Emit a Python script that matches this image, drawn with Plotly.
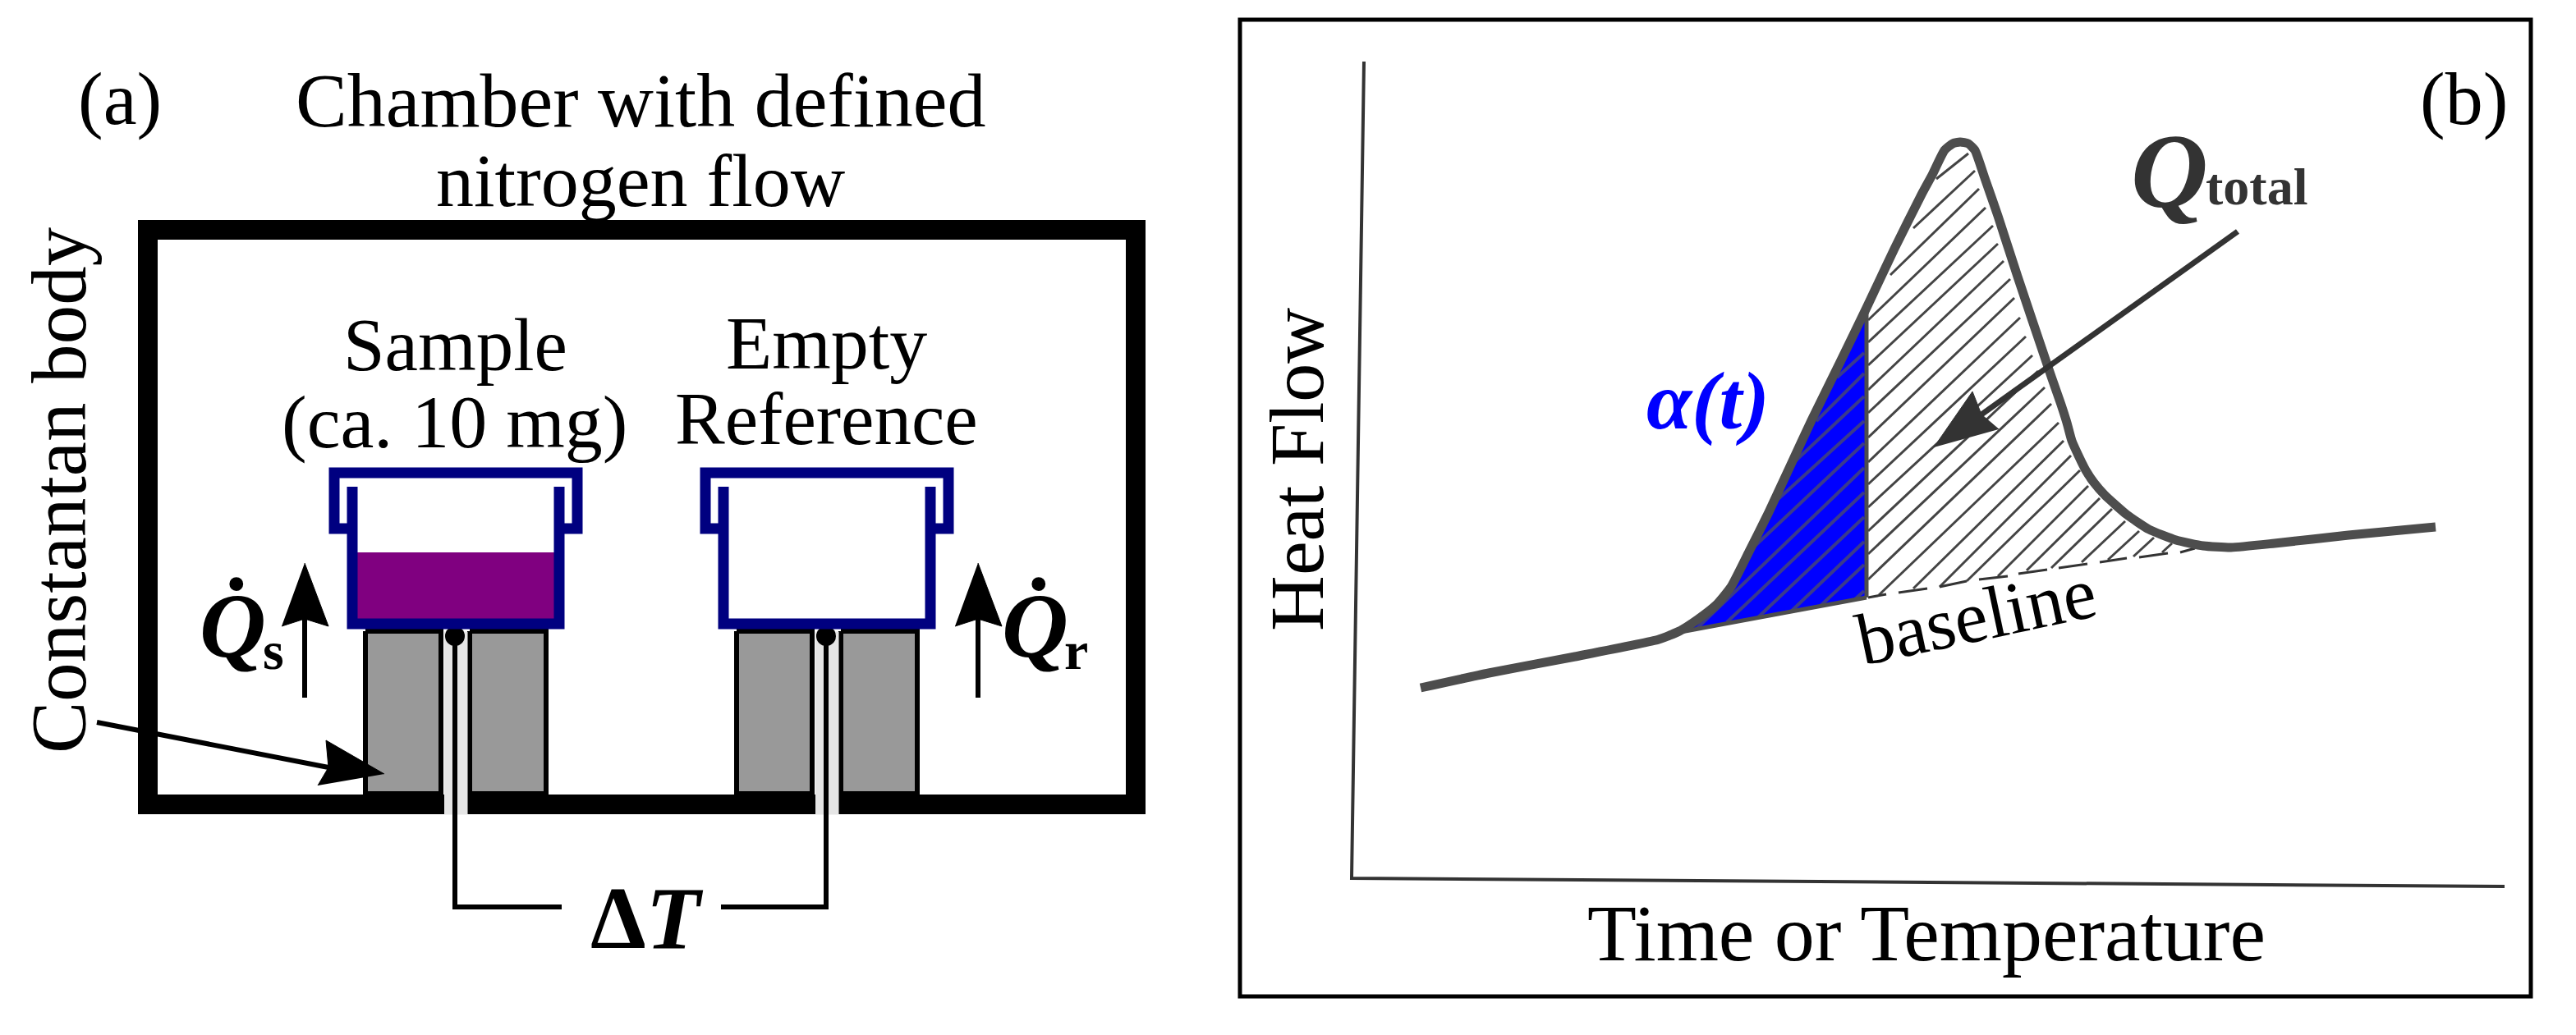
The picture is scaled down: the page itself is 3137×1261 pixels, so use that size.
import plotly.graph_objects as go

chamber_x = [780, 1383, 1383, 180, 180, 780]
chamber_y = [280, 280, 980, 980, 280, 280]

pan_x = [429, 429, 681, 681]
pan_y = [593, 760, 760, 593]
lid_x = [429, 407, 407, 703, 703, 681]
lid_y = [644, 644, 576, 576, 644, 644]
liquid_x = [435, 675, 675, 435]
liquid_y = [673, 673, 754, 754]
block_left_x = [445, 537, 537, 445, 445]
block_right_x = [572, 665, 665, 572, 572]
block_y = [769, 769, 967, 967, 769]
gap_x = [541, 569, 569, 541]
gap_y = [770, 770, 992, 992]
reference_shift = 452

wire_left_x = [554, 554, 684]
wire_right_x = [1006, 1006, 878]
wire_y = [775, 1105, 1105]

arrow_s_x = [371, 400, 371, 343]
arrow_s_y = [686, 763, 754, 763]
arrow_r_shift = 820
arrow_shaft_y = [754, 850]

body_arrow_x = [468, 397, 400, 387]
body_arrow_y = [943, 902, 935, 957]
body_line_x = [118, 400]
body_line_y = [880, 935]

box_b_x = [2300, 3082, 3082, 1510, 1510, 2300]
box_b_y = [24, 24, 1214, 1214, 24, 24]
axes_x = [1661, 1646, 3050]
axes_y = [75, 1070, 1080]

curve_x = [1730, 1813, 1918, 2020, 2045, 2067, 2090, 2108, 2130, 2153, 2180, 2207, 2240, 2273,
           2307, 2340, 2353, 2368, 2378, 2387, 2397, 2405, 2417, 2433, 2457, 2495, 2503, 2510, 2517,
           2523, 2532, 2540, 2550, 2563, 2590, 2617, 2650, 2683, 2717, 2770, 2860, 2966]
curve_y = [838, 820, 800, 779, 769, 755, 737, 715, 672, 626, 568, 510, 443, 375,
           303, 237, 213, 183, 175, 173, 175, 183, 217, 263, 337, 450, 473, 493, 515,
           537, 557, 573, 588, 603, 627, 645, 658, 665, 667, 662, 652, 642]

blue_x = [2047, 2067, 2090, 2108, 2130, 2153, 2180, 2207, 2240, 2273, 2273]
blue_y = [770, 755, 737, 715, 672, 626, 568, 510, 443, 375, 728]
divider_x = [2273, 2273]
divider_y = [375, 728]
base_solid_x = [2047, 2273]
base_solid_y = [770, 728]

dash_x0 = [2275, 2312, 2362, 2410, 2458, 2507, 2557, 2605, 2655]
dash_y0 = [728, 722, 715, 706, 699, 692, 685, 679, 673]
dash_x1 = [2297, 2347, 2395, 2445, 2493, 2542, 2590, 2640, 2673]
dash_y1 = [724, 717, 708, 702, 694, 687, 680, 674, 668]

hatch_x0 = [2358, 2330, 2302, 2275, 2275, 2275, 2275, 2275, 2275, 2275, 2275, 2275, 2275, 2275, 2275,
            2288, 2330, 2362, 2395, 2433, 2468, 2498, 2535, 2567, 2598, 2633]
hatch_y0 = [218, 278, 335, 390, 417, 445, 475, 503, 533, 563, 590, 618, 647, 675, 706,
            725, 717, 715, 708, 702, 695, 692, 685, 682, 678, 673]
hatch_x1 = [2397, 2405, 2410, 2418, 2427, 2433, 2440, 2448, 2453, 2460, 2467, 2475, 2482, 2490, 2498,
            2507, 2513, 2522, 2533, 2543, 2557, 2572, 2588, 2605, 2623, 2645]
hatch_y1 = [187, 208, 230, 253, 275, 297, 318, 340, 363, 387, 410, 433, 452, 472, 492,
            515, 537, 555, 573, 592, 607, 620, 635, 647, 655, 662]

blue_hatch_x0 = [2237, 2212, 2185, 2160, 2132, 2065, 2103, 2141, 2181, 2217, 2259]
blue_hatch_y0 = [460, 513, 563, 613, 670, 767, 758, 752, 745, 738, 730]
blue_hatch_x1 = [2270, 2270, 2270, 2270, 2270, 2270, 2270, 2270, 2270, 2270, 2270]
blue_hatch_y1 = [430, 455, 483, 513, 540, 570, 600, 630, 660, 688, 720]

q_line_x = [2725, 2413]
q_line_y = [282, 505]
q_head_x = [2355, 2402, 2413, 2434]
q_head_y = [545, 477, 505, 523]

INK = "#000000"
NAVY = "#000080"
GREY = "#4d4d4d"
DARK = "#333333"
FONT = "Liberation Serif"

fig = go.Figure()


def add(x, y, color=INK, width=6, fill=None, shape="linear"):
    fig.add_trace(go.Scatter(
        x=x, y=y, mode="lines", hoverinfo="skip", showlegend=False,
        line=dict(color=color, width=width, shape=shape, smoothing=0.5),
        fill="toself" if fill else None, fillcolor=fill,
    ))


def add_segments(x0, y0, x1, y1, color, width):
    xs, ys = [], []
    for a, b, c, d in zip(x0, y0, x1, y1):
        xs += [a, c, None]
        ys += [b, d, None]
    add(xs, ys, color, width)


def shift(values, dx):
    return [v + dx for v in values]


# panel a
add(chamber_x, chamber_y, INK, 24)
for dx in [0, reference_shift]:
    add(shift(block_left_x, dx), block_y, INK, 6, "#999999")
    add(shift(block_right_x, dx), block_y, INK, 6, "#999999")
    add(shift(gap_x, dx), gap_y, "#e5e5e5", 1, "#e5e5e5")
add(wire_left_x, wire_y)
add(wire_right_x, wire_y)
fig.add_trace(go.Scatter(x=[wire_left_x[0], wire_right_x[0]], y=[wire_y[0], wire_y[0]], mode="markers",
                         hoverinfo="skip", showlegend=False, marker=dict(color=INK, size=24)))
add(liquid_x, liquid_y, "#800080", 0, "#800080")
for dx in [0, reference_shift]:
    add(shift(pan_x, dx), pan_y, NAVY, 13)
    add(shift(lid_x, dx), lid_y, NAVY, 13)
for dx in [0, arrow_r_shift]:
    add(shift(arrow_s_x, dx), arrow_s_y, INK, 1, INK)
    add([arrow_s_x[0] + dx] * 2, arrow_shaft_y, INK, 6)
add(body_line_x, body_line_y, INK, 6)
add(body_arrow_x, body_arrow_y, INK, 1, INK)

# panel b
add(box_b_x, box_b_y, INK, 5)
add(axes_x, axes_y, "#333333", 4)
add(blue_x, blue_y, "#0000ff", 0, "#0000ff")
add_segments(hatch_x0, hatch_y0, hatch_x1, hatch_y1, "#444444", 3)
add_segments(blue_hatch_x0, blue_hatch_y0, blue_hatch_x1, blue_hatch_y1, "#3a3a8c", 4)
add_segments(dash_x0, dash_y0, dash_x1, dash_y1, "#333333", 3)
add(divider_x, divider_y, GREY, 5)
add(base_solid_x, base_solid_y, GREY, 5)
add(curve_x, curve_y, GREY, 11, shape="spline")
add(q_line_x, q_line_y, DARK, 7)
add(q_head_x, q_head_y, DARK, 1, DARK)

labels = [
    ("(a)", 146, 120, 92, INK, 0),
    ("Chamber with defined", 780, 122, 94, INK, 0),
    ("nitrogen flow", 780, 220, 92, INK, 0),
    ("Constantan body", 72, 597, 95, INK, -90),
    ("Sample", 554, 420, 91, INK, 0),
    ("(ca. 10 mg)", 554, 514, 92, INK, 0),
    ("Empty", 1006, 418, 92, INK, 0),
    ("Reference", 1006, 510, 91, INK, 0),
    ("<b><i>Q̇</i></b>", 283, 762, 112, INK, 0),
    ("<b>s</b>", 333, 792, 66, INK, 0),
    ("<b><i>Q̇</i></b>", 1260, 762, 112, INK, 0),
    ("<b>r</b>", 1310, 792, 66, INK, 0),
    ("<b>Δ<i>T</i></b>", 788, 1118, 108, INK, 0),
    ("(b)", 3000, 120, 92, INK, 0),
    ("Heat Flow", 1579, 572, 94, INK, -90),
    ("Time or Temperature", 2346, 1137, 98, INK, 0),
    ("baseline", 2406, 750, 90, INK, -12),
    ("<b><i>Q</i></b>", 2642, 208, 130, DARK, 0),
    ("<b>total</b>", 2748, 227, 64, DARK, 0),
    ("<b><i>α(t)</i></b>", 2080, 488, 100, "#0000ff", 0),
]
for text, x, y, size, color, angle in labels:
    fig.add_annotation(x=x, y=y, text=text, showarrow=False, textangle=angle,
                       xanchor="center", yanchor="middle",
                       font=dict(family=FONT, size=size, color=color))

fig.update_xaxes(visible=False, range=[0, 3137], fixedrange=True)
fig.update_yaxes(visible=False, range=[1261, 0], fixedrange=True)
fig.update_layout(width=3137, height=1261, margin=dict(l=0, r=0, t=0, b=0),
                  plot_bgcolor="white", paper_bgcolor="white")

fig.write_html("out.html", config=dict(displayModeBar=False),
               post_script="document.body.style.margin='0';")
